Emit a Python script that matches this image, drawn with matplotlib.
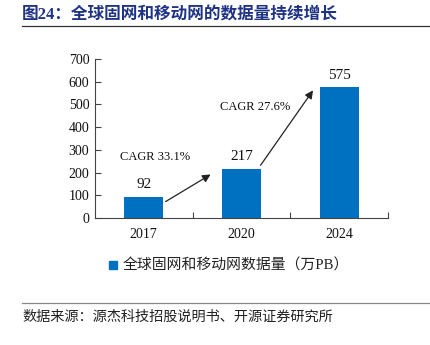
import matplotlib
matplotlib.use("Agg")
import matplotlib.pyplot as plt
from matplotlib.lines import Line2D

# ----- Datos -----
years = ["2017", "2020", "2024"]
volumes = [92, 217, 575]
cagr_labels = ["CAGR 33.1%", "CAGR 27.6%"]
y_ticks = [0, 100, 200, 300, 400, 500, 600, 700]

# ----- Estilo -----
BAR_COLOR = "#0070c0"
TITLE_COLOR = "#1f3385"
TEXT = "#111111"
SERIF_CJK = ["Liberation Serif", "Noto Sans CJK SC"]
CJK = ["Noto Sans CJK SC", "DejaVu Sans"]

fig = plt.figure(figsize=(4.31, 3.45), dpi=100)
ax = fig.add_axes([0.220, 0.368, 0.680, 0.461])

x = list(range(len(years)))
ax.bar(x, volumes, width=0.4, color=BAR_COLOR, zorder=2)

ax.set_xlim(-0.5, len(years) - 0.5)
ax.set_ylim(0, 700)
ax.set_yticks(y_ticks)
ax.set_yticklabels([str(t) for t in y_ticks], family="Liberation Serif", fontsize=10, color=TEXT)
ax.set_xticks(x)
ax.set_xticklabels(years, family="Liberation Serif", fontsize=10, color=TEXT)
ax.tick_params(axis="x", length=0, pad=7)
ax.tick_params(axis="y", direction="in", length=4, width=0.8, color="#444444", pad=4)

# marcas entre categorías
ax.set_xticks([0.5, 1.5, 2.5], minor=True)
ax.tick_params(axis="x", which="minor", direction="in", length=4, width=0.8, color="#444444")

for side in ["top", "right"]:
    ax.spines[side].set_visible(False)
for side in ["left", "bottom"]:
    ax.spines[side].set_color("#444444")
    ax.spines[side].set_linewidth(0.8)

# etiquetas de valor
for xi, v in zip(x, volumes):
    ax.text(xi, v + 25, str(v), ha="center", va="bottom", family="Liberation Serif",
            fontsize=11, color=TEXT)

# flechas CAGR
arrow_kw = dict(arrowstyle="-|>", color="#222222", lw=0.9, mutation_scale=12)
ax.annotate("", xy=(0.71, 198), xytext=(0.2, 66), arrowprops=arrow_kw)
ax.annotate("", xy=(1.75, 572), xytext=(1.18, 222), arrowprops=arrow_kw)
ax.text(0.12, 268, cagr_labels[0], ha="center", va="center", family="Liberation Serif",
        fontsize=9, color=TEXT)
ax.text(1.14, 488, cagr_labels[1], ha="center", va="center", family="Liberation Serif",
        fontsize=9, color=TEXT)

# leyenda
handle = Line2D([], [], marker="s", linestyle="none", markersize=5.5,
                markerfacecolor=BAR_COLOR, markeredgecolor=BAR_COLOR)
leg = fig.legend([handle], ["全球固网和移动网数据量（万PB）"], loc="center",
                 bbox_to_anchor=(228 / 431, 1 - 266 / 345), frameon=False,
                 handletextpad=0.2, handlelength=0.8,
                 prop={"family": SERIF_CJK, "size": 10.7})
for t in leg.get_texts():
    t.set_color("#222222")

# título
fig.text(22 / 431, 1 - 15 / 345, "图24：全球固网和移动网的数据量持续增长", ha="left", va="center",
         family=SERIF_CJK, fontsize=12, fontweight="bold", color=TITLE_COLOR)
fig.add_artist(Line2D([22 / 431, 1.0], [1 - 26 / 345] * 2, color="#333333", lw=0.9))

# fuente
fig.add_artist(Line2D([22 / 431, 1.0], [1 - 303 / 345] * 2, color="#888888", lw=0.9))
fig.text(22 / 431, 1 - 317 / 345, "数据来源：源杰科技招股说明书、开源证券研究所", ha="left",
         va="center", family=CJK, fontsize=10.2, color="#222222")

fig.savefig("out.png", dpi=100)
